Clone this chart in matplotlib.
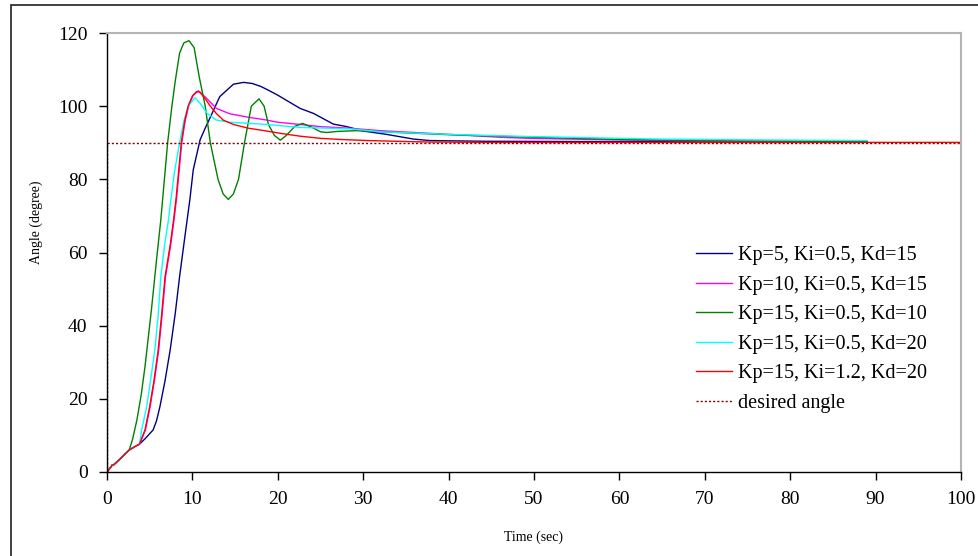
import matplotlib.pyplot as plt
from matplotlib.patches import Rectangle

# step responses of the PID controller, time in sec, angle in degree
t_kp5 = [0, 0.5, 0.6, 0.8, 1.5, 2.6, 3.3, 3.8, 4.5, 5.4, 5.8, 6.2, 6.8, 7.4, 8.0, 8.5,
         9.1, 9.7, 10.1, 10.9, 11.5, 12.1, 13.2, 14.8, 16.0, 17.0, 18.0, 18.7, 20.0,
         22.6, 24.2, 26.5, 28.1, 30.0, 32.7, 35.9, 37.8, 44.4, 60, 89]
a_kp5 = [0, 1.5, 1.9, 2.0, 3.5, 6.0, 7.0, 7.6, 9.2, 11.5, 14.0, 17.9, 25.0, 33.4, 43.5,
         53.4, 64.0, 74.4, 82.6, 90.8, 94.0, 97.0, 102.6, 106.0, 106.5, 106.2, 105.4,
         104.6, 103.0, 99.4, 98.0, 95.1, 94.4, 93.2, 92.3, 91.0, 90.6, 90.4, 90.3, 90.2]

t_kp10 = [0, 0.5, 0.6, 0.8, 1.5, 2.6, 3.3, 3.8, 4.5, 5.05, 5.55, 6.05, 6.45, 6.85, 7.45,
          7.85, 8.15, 8.75, 9.15, 9.55, 10.1, 10.7, 11.5, 12.8, 14.4, 16.5, 18.7, 20.0,
          22.6, 25.0, 28.2, 32.0, 40.0, 46.0, 49.5, 59.3, 69.0, 80.0, 89.0]
a_kp10 = [0, 1.5, 1.9, 2.0, 3.5, 6.0, 7.0, 7.6, 11.5, 17.9, 25.0, 33.4, 43.0, 53.4, 62.0,
          69.0, 75.0, 90.0, 96.0, 100.0, 103.0, 104.2, 102.5, 99.4, 97.9, 97.0, 96.2,
          95.6, 95.0, 94.4, 94.0, 93.3, 92.3, 91.5, 91.2, 90.8, 90.5, 90.4, 90.3]

t_kd10 = [0, 0.5, 0.6, 0.8, 1.5, 2.6, 3.0, 3.5, 4.0, 4.45, 5.2, 5.8, 6.3, 7.1, 7.6, 8.0,
          8.5, 9.0, 9.6, 10.2, 10.8, 11.5, 12.1, 13.0, 13.6, 14.2, 14.8, 15.4, 16.1, 16.9,
          17.8, 18.4, 18.9, 19.6, 20.3, 21.0, 22.0, 22.9, 24.0, 25.0, 25.7, 27.0, 29.2,
          32.0, 40.0, 50.0, 60.0, 74.0, 89.0]
a_kd10 = [0, 1.5, 1.9, 2.0, 3.5, 6.0, 9.0, 14.2, 21.0, 28.8, 44.3, 58.0, 68.9, 90.0, 100.0,
          107.0, 114.5, 117.3, 117.9, 116.0, 108.0, 100.0, 90.0, 80.0, 76.0, 74.5, 76.0,
          80.0, 90.0, 100.0, 102.0, 100.0, 95.0, 92.0, 90.7, 92.0, 94.5, 95.3, 94.2, 93.0,
          92.8, 93.1, 93.3, 93.0, 92.2, 91.5, 90.9, 90.5, 90.3]

t_kd20 = [0, 0.5, 0.6, 0.8, 1.5, 2.6, 3.3, 3.8, 4.06, 4.65, 5.1, 5.6, 6.0, 6.3, 6.8, 7.2,
          7.4, 7.9, 8.5, 9.0, 9.5, 10.3, 11.0, 11.7, 12.8, 14.4, 18.7, 22.6, 28.5, 32.0,
          40.0, 46.0, 49.5, 64.8, 75.0, 89.0]
a_kd20 = [0, 1.5, 1.9, 2.0, 3.5, 6.0, 7.0, 7.6, 11.5, 17.9, 25.0, 33.4, 43.0, 53.4, 63.0,
          68.9, 73.0, 82.0, 90.0, 96.0, 100.0, 102.3, 100.5, 98.1, 96.2, 95.6, 95.0, 94.2,
          93.8, 93.0, 92.3, 91.9, 91.7, 91.0, 90.8, 90.6]

t_ki12 = [0, 0.5, 0.6, 0.8, 1.5, 2.6, 3.3, 3.8, 4.45, 5.0, 5.5, 6.0, 6.4, 6.8, 7.4, 7.8,
          8.1, 8.7, 9.1, 9.5, 10.0, 10.5, 10.9, 11.5, 12.1, 12.8, 13.6, 14.8, 16.5, 18.7,
          20.5, 22.6, 25.0, 27.3, 30.5, 37.5, 45.0, 100.0]
a_ki12 = [0, 1.5, 1.9, 2.0, 3.5, 6.0, 7.0, 7.6, 11.5, 17.9, 25.0, 33.4, 43.0, 53.4, 62.0,
          69.0, 75.0, 90.0, 96.0, 100.0, 102.8, 104.0, 103.8, 102.0, 100.0, 98.0, 96.2,
          95.0, 94.0, 93.2, 92.5, 91.8, 91.2, 90.9, 90.6, 90.2, 90.1, 90.1]

t_desired = [0, 0, 100]
a_desired = [0, 90, 90]

series = [
    (t_kp5, a_kp5, "#000080", "Kp=5, Ki=0.5, Kd=15"),
    (t_kp10, a_kp10, "#ff00ff", "Kp=10, Ki=0.5, Kd=15"),
    (t_kd10, a_kd10, "#008000", "Kp=15, Ki=0.5, Kd=10"),
    (t_kd20, a_kd20, "#00ffff", "Kp=15, Ki=0.5, Kd=20"),
    (t_ki12, a_ki12, "#ff0000", "Kp=15, Ki=1.2, Kd=20"),
]

plt.rcParams["font.family"] = ["Liberation Serif", "DejaVu Serif"]

fig = plt.figure(figsize=(9.79, 5.56), dpi=100)
ax = fig.add_axes([107 / 979, 1 - 472 / 556, (961 - 107) / 979, (472 - 33) / 556])

for t, a, color, label in series:
    ax.plot(t, a, color=color, lw=1.0, label=label)
ax.plot(t_desired, a_desired, color="#800000", lw=1.0, linestyle=(0, (1.5, 1.5)),
        label="desired angle")

ax.set_xlim(0, 100)
ax.set_ylim(0, 120)
ax.set_xticks(range(0, 101, 10))
ax.set_yticks(range(0, 121, 20))
ax.tick_params(direction="out", length=6, width=1, labelsize=14, pad=8)

for side in ["top", "right"]:
    ax.spines[side].set_color("#b4b4b4")
    ax.spines[side].set_linewidth(1.5)
for side in ["left", "bottom"]:
    ax.spines[side].set_color("black")
    ax.spines[side].set_linewidth(1.0)

ax.set_xlabel("Time (sec)", fontsize=10)
ax.set_ylabel("Angle (degree)", fontsize=10)
ax.xaxis.set_label_coords(0.5, -0.133)
ax.yaxis.set_label_coords(-0.075, 0.569)

ax.legend(loc="upper left", bbox_to_anchor=(0.68, 0.533), frameon=False, fontsize=14.5,
          handlelength=1.8, handletextpad=0.3, labelspacing=0.52, borderaxespad=0)

# chart border, clipped at right and bottom
fig.patches.append(Rectangle((11 / 979, -0.1), 1.2, 1 - 5 / 556 + 0.1,
                             transform=fig.transFigure, fill=False,
                             edgecolor="#202020", lw=1.2))

fig.savefig("out.png", dpi=100)
